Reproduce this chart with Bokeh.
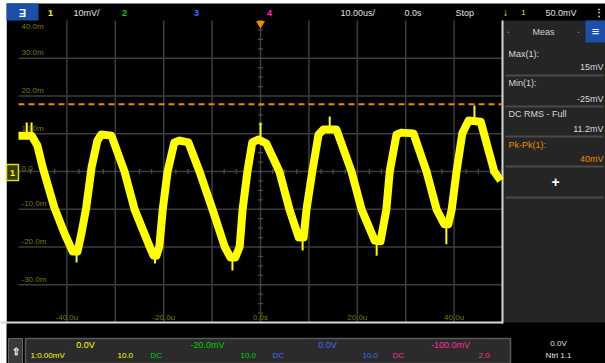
from bokeh.plotting import figure
from bokeh.models import Range1d
from bokeh.core.properties import value
from bokeh.embed import file_html
from bokeh.resources import INLINE

# ---------------- data ----------------
T_US = [-50.0, -47.3, -46.1, -45.0, -42.6, -40.5, -38.8, -37.8, -37.0, -36.0, -34.9, -33.7,
        -32.9, -30.8, -28.1, -26.0, -22.9, -22.1, -21.5, -20.9, -20.2, -19.2, -17.8, -16.7,
        -14.9, -12.6, -9.9, -7.4, -6.2, -5.2, -4.3, -3.7, -2.7, -1.7, -0.4, 1.2, 3.9, 6.0,
        7.9, 8.9, 9.5, 10.7, 12.0, 13.0, 15.7, 18.8, 20.9, 23.6, 24.8, 26.0, 26.7, 28.1,
        29.1, 31.6, 34.3, 36.4, 38.0, 38.8, 39.5, 40.5, 41.7, 43.0, 45.5, 48.3, 49.6]
V_MV = [9.5, 9.5, 6.9, 1.1, -9.5, -16.4, -21.2, -21.2, -16.4, -9.5, 1.1, 8.2,
        9.8, 9.5, 0.0, -10.1, -19.9, -22.3, -22.3, -19.9, -10.1, 0.0, 7.7, 8.2,
        7.7, 0.0, -10.1, -19.9, -22.8, -22.8, -19.9, -10.1, 0.0, 7.7, 8.5, 7.4, 0.0, -10.1,
        -17.5, -17.5, -10.1, 0.0, 9.8, 11.1, 11.1, 0.0, -10.1, -18.3, -18.5, -10.1, 0.0, 9.8,
        10.3, 10.1, 0.0, -10.1, -14.0, -14.0, -10.1, 0.0, 10.1, 13.5, 13.2, 0.0, -2.4]

SPIKE_T = [-48.3, -47.3, -38.0, -21.8, -5.8, 0.0, 8.7, 14.3, 24.0, 38.4, 44.2]
SPIKE_LO = [9.5, 9.5, -24.1, -24.4, -26.2, 8.5, -20.9, 11.0, -22.3, -19.3, 13.5]
SPIKE_HI = [13.0, 13.0, -21.0, -22.3, -22.8, 13.0, -17.5, 14.6, -18.5, -14.0, 17.5]

TRIG_MV = 17.8

T_GRID = [-40, -30, -20, -10, 0, 10, 20, 30, 40]
V_GRID = [-30, -20, -10, 0, 10, 20, 30]
T_MINOR = [-50 + 2.5 * i for i in range(41)]
V_MINOR = [-40 + 2.5 * i for i in range(33)]

Y_LABEL_V = [30, 20, 10, 0, -10, -20, -30]
Y_LABELS = ["30.0m", "20.0m", "10.0m", "0.0", "-10.0m", "-20.0m", "-30.0m"]
X_LABEL_T = [-40, -20, 0, 20, 40]
X_LABELS = ["-40.0u", "-20.0u", "0.0s", "20.0u", "40.0u"]

MEAS_NAMES = ["Max(1):", "Min(1):", "DC RMS - Full", "Pk-Pk(1):"]
MEAS_VALUES = ["15mV", "-25mV", "11.2mV", "40mV"]

# ---------------- layout ----------------
W, H = 605, 363
PX0, PX1, PY0, PY1 = 18, 502, 20, 322
T_MIN, T_MAX, V_MIN, V_MAX = -50.0, 50.0, -40.0, 40.0
sx = (PX1 - PX0) / (T_MAX - T_MIN)
sy = (PY1 - PY0) / (V_MAX - V_MIN)

p = figure(width=W, height=H, x_range=Range1d(0, W), y_range=Range1d(H, 0),
           output_backend="svg", toolbar_location=None, min_border=0,
           x_axis_location=None, y_axis_location=None)
p.grid.visible = False
p.outline_line_color = None
p.background_fill_color = "white"
p.border_fill_color = "white"
p.extra_x_ranges = {"t": Range1d(T_MIN - PX0 / sx, T_MAX + (W - PX1) / sx)}
p.extra_y_ranges = {"v": Range1d(V_MIN - (H - PY1) / sy, V_MAX + PY0 / sy)}

FONT = value("Liberation Sans")


def txt(x, y, s, color, size=9, align="left", base="middle", bold=False, xr="default", yr="default",
        xo=0, yo=0):
    p.text(x=x, y=y, text=s, text_color=color, text_font=FONT, text_font_size=value(f"{size}px"),
           text_align=align, text_baseline=base, text_font_style="bold" if bold else "normal",
           x_range_name=xr, y_range_name=yr, x_offset=xo, y_offset=yo)


# backgrounds (screen coordinates)
p.quad(left=[6], right=[W], top=[3], bottom=[H], fill_color="black", line_color=None)
p.quad(left=[0], right=[6], top=[0], bottom=[323], fill_color="white", line_color=None)
# right panel
p.quad(left=[PX1], right=[W], top=[PY0], bottom=[PY1], fill_color="#252525", line_color=None)
p.quad(left=[585], right=[W], top=[PY0], bottom=[42], fill_color="#1c4fa8", line_color=None)
p.segment(x0=[505] * 5, x1=[603] * 5, y0=[75, 106, 136, 166, 197], y1=[75, 106, 136, 166, 197],
          line_color="#4a4a4a", line_width=2)
# bottom panel
p.quad(left=[25], right=[510], top=[338], bottom=[H], fill_color="#2b2b2b", line_color="#5a5a5a", line_width=1.5)
p.quad(left=[8], right=[22], top=[338], bottom=[H], fill_color="#3a3a3a", line_color="#666666")
# top bar button
p.quad(left=[6], right=[38], top=[3], bottom=[20], fill_color="#1c4fa8", line_color=None)

# grid
p.segment(x0=T_GRID, x1=T_GRID, y0=[V_MIN] * len(T_GRID), y1=[V_MAX] * len(T_GRID),
          line_color="#3c3c3c", line_width=1.5, x_range_name="t", y_range_name="v")
p.segment(x0=[T_MIN] * len(V_GRID), x1=[T_MAX] * len(V_GRID), y0=V_GRID, y1=V_GRID,
          line_color="#3c3c3c", line_width=1.5, x_range_name="t", y_range_name="v")
hx = 2.5 / sx
hy = 2.5 / sy
p.segment(x0=T_MINOR, x1=T_MINOR, y0=[-hy] * len(T_MINOR), y1=[hy] * len(T_MINOR),
          line_color="#4a4a4a", line_width=1.2, x_range_name="t", y_range_name="v")
p.segment(x0=[-hx] * len(V_MINOR), x1=[hx] * len(V_MINOR), y0=V_MINOR, y1=V_MINOR,
          line_color="#4a4a4a", line_width=1.2, x_range_name="t", y_range_name="v")

# frame lines
p.segment(x0=[0, PX1], x1=[PX1, PX1], y0=[PY1, PY0], y1=[PY1, PY1 + 1],
          line_color="#d8d8d8", line_width=2)

# axis labels
txt([T_MIN] * len(Y_LABELS), Y_LABEL_V, Y_LABELS, "#7a7a00", 8, "left", "bottom",
    xr="t", yr="v", xo=3, yo=-1)
txt([T_MIN], [V_MAX], ["40.0m"], "#7a7a00", 8, "left", "top", xr="t", yr="v", xo=3, yo=1)
txt(X_LABEL_T, [V_MIN] * len(X_LABELS), X_LABELS, "#7a7a00", 8, "center", "bottom",
    xr="t", yr="v", yo=-1)

# trigger level
p.line(x=[T_MIN, T_MAX], y=[TRIG_MV, TRIG_MV], line_color="#f08a00", line_width=2,
       line_dash="6 4", x_range_name="t", y_range_name="v")

# waveform
p.line(x=T_US, y=V_MV, line_color="#ffff00", line_width=8, line_join="round",
       x_range_name="t", y_range_name="v")
p.segment(x0=SPIKE_T, x1=SPIKE_T, y0=SPIKE_LO, y1=SPIKE_HI, line_color="#ffff00", line_width=2,
          x_range_name="t", y_range_name="v")

# trigger position marker
p.scatter(x=[0], y=[23], marker="inverted_triangle", size=9, fill_color="#f08a00",
          line_color=None, x_range_name="t")

# channel 1 ground marker
p.quad(left=[6], right=[18], top=[164], bottom=[180], fill_color="#3a3a00", line_color="#e0e000", line_width=1.5)
txt([12], [172], ["1"], "#ffff00", 9, "center", "middle", bold=True)

# top bar texts
txt([22], [12], ["Ǝ"], "white", 11, "center", "middle", bold=True)
txt([50], [12], ["1"], "#ffff00", 9, "center", "middle", bold=True)
txt([73], [12], ["10mV/"], "#e0e0e0", 9)
txt([124], [12], ["2"], "#00d000", 9, "center", "middle", bold=True)
txt([196], [12], ["3"], "#3a6cff", 9, "center", "middle", bold=True)
txt([269], [12], ["4"], "#ff2aa0", 9, "center", "middle", bold=True)
txt([340], [12], ["10.00us/"], "#e0e0e0", 9)
txt([404], [12], ["0.0s"], "#e0e0e0", 9)
txt([455], [12], ["Stop"], "#e0e0e0", 9)
txt([505], [12], ["↓"], "#ffff00", 10, "center", "middle", bold=True)
txt([523], [12], ["1"], "#ffff00", 7, "center", "middle")
txt([545], [12], ["50.0mV"], "#e0e0e0", 9)
txt([598], [12], ["⋮"], "#e0e0e0", 10, "center", "middle", bold=True)

# measurement panel
txt([543], [31], ["Meas"], "#d0d0d0", 9, "center", "middle")
txt([508, 578], [31, 31], ["•", "•"], "#909090", 5, "center", "middle")
txt([595], [31], ["≡"], "white", 13, "center", "middle", bold=True)
txt([508, 508, 508, 508], [53, 82, 113, 144], MEAS_NAMES,
    ["#d8d8d8", "#d8d8d8", "#d8d8d8", "#f08a00"], 9)
txt([603, 603, 603, 603], [66, 98, 128, 158], MEAS_VALUES,
    ["#d8d8d8", "#d8d8d8", "#d8d8d8", "#f08a00"], 9, "right")
txt([555], [181], ["+"], "white", 14, "center", "middle", bold=True)

# bottom panel texts
txt([15], [351], ["⇧"], "white", 10, "center", "middle", bold=True)
txt([85, 207, 327, 450], [344, 344, 344, 344], ["0.0V", "-20.0mV", "0.0V", "-100.0mV"],
    ["#ffff00", "#00d000", "#3a6cff", "#ff2aa0"], 9, "center")
txt([30, 117, 150, 240, 272, 362, 392, 478],
    [355] * 8,
    ["1:0.00mV", "10.0", "DC", "10.0", "DC", "10.0", "DC", "2.0"],
    ["#ffff00", "#ffff00", "#00d000", "#00d000", "#3a6cff", "#3a6cff", "#ff2aa0", "#ff2aa0"], 8)
txt([558, 558], [343, 355], ["0.0V", "Ntrl 1.1"], "#e0e0e0", 8, "center")

open("out.html", "w").write(file_html(p, INLINE))
